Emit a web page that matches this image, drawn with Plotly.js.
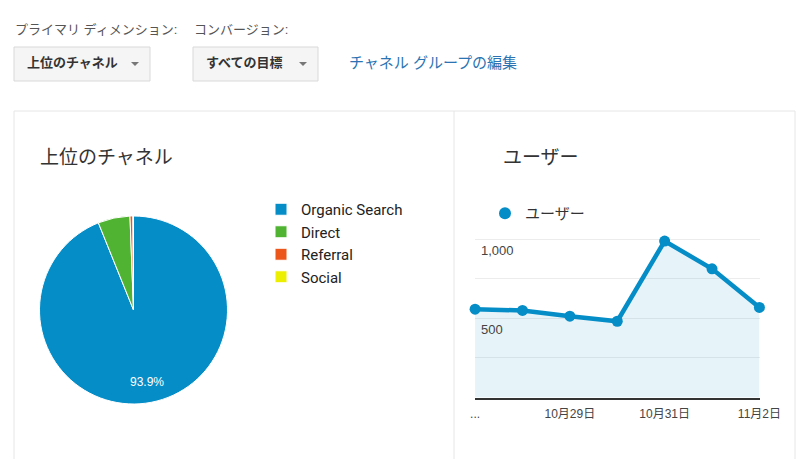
<!DOCTYPE html>
<html>
<head>
<meta charset="utf-8">
<script src="https://cdn.plot.ly/plotly-3.0.1.min.js"></script>
<style>
html,body{margin:0;padding:0;background:#fff;}
#chart{width:800px;height:459px;}
</style>
</head>
<body>
<div id="chart"></div>
<script>
// ---- data ----
const channelLabels = ["Organic Search", "Direct", "Referral", "Social"];
const channelValues = [93.9, 5.5, 0.5, 0.1];
const channelColors = ["#058dc7", "#50b432", "#ed561b", "#edef00"];

const dates = ["10月27日", "10月28日", "10月29日", "10月30日", "10月31日", "11月1日", "11月2日"];
const users = [557, 549, 513, 481, 987, 812, 568];

const xTickVals = ["10月27日", "10月29日", "10月31日", "11月2日"];
const xTickText = ["...", "10月29日", "10月31日", "11月2日"];
const yTickVals = [0, 250, 500, 750, 1000];
const yTickText = ["", "", "500", "", "1,000"];

// ---- helpers (pixel -> paper) ----
const W = 800, H = 459;
const X = px => px / W;
const Y = py => 1 - py / H;

const JP = '"Liberation Sans", Arial, "Noto Sans CJK JP", sans-serif';

// pie geometry (pixels)
const pieCx = 133.5, pieCy = 310, pieR = 94;

const pie = {
  type: "pie",
  labels: channelLabels,
  values: channelValues,
  marker: { colors: channelColors, line: { color: "#ffffff", width: 1 } },
  sort: false,
  direction: "clockwise",
  rotation: 0,
  domain: { x: [X(pieCx - pieR), X(pieCx + pieR)], y: [Y(pieCy + pieR), Y(pieCy - pieR)] },
  textinfo: "none",
  hoverinfo: "none",
  legend: "legend",
  showlegend: true
};

// percentage label for the largest slice, placed along its bisector (Google-chart style)
const total = channelValues.reduce((a, b) => a + b, 0);
const mid = channelValues[0] / 2 / total * 2 * Math.PI;
const labelR = pieR * 0.775;
const pctLabel = {
  text: (channelValues[0] / total * 100).toFixed(1) + "%",
  xref: "paper", yref: "paper",
  x: X(pieCx + labelR * Math.sin(mid)),
  y: Y(pieCy - labelR * Math.cos(mid)),
  xanchor: "center", yanchor: "middle", showarrow: false,
  font: { size: 12, color: "#ffffff", family: "Arial, sans-serif" }
};

const line = {
  type: "scatter",
  x: dates,
  y: users,
  mode: "lines+markers",
  line: { color: "#058dc7", width: 4.5 },
  marker: { color: "#058dc7", size: 11 },
  fill: "tozeroy",
  fillcolor: "rgba(5,141,199,0.1)",
  cliponaxis: false,
  showlegend: false,
  hoverinfo: "none",
  xaxis: "x",
  yaxis: "y"
};

const lineLegend = {
  type: "scatter",
  x: [null],
  y: [null],
  mode: "markers",
  name: "ユーザー",
  marker: { color: "#058dc7", size: 12 },
  legend: "legend2",
  showlegend: true,
  hoverinfo: "none"
};

const ann = (text, x, y, size, color, extra) => Object.assign({
  text: text, xref: "paper", yref: "paper", x: X(x), y: Y(y),
  xanchor: "left", yanchor: "middle", showarrow: false,
  font: { size: size, color: color, family: JP }
}, extra || {});

// y scale: 1000 at pixel 239, 0 at pixel 397.5; range padded a little above 1000
const yBottom = 397.5, yTop1000 = 239, yMax = 1020;
const yTopPx = yBottom - (yBottom - yTop1000) * yMax / 1000;

const layout = {
  width: W, height: H,
  margin: { l: 0, r: 0, t: 0, b: 0 },
  paper_bgcolor: "#ffffff",
  plot_bgcolor: "rgba(0,0,0,0)",
  font: { family: JP, color: "#333" },
  xaxis: {
    domain: [X(475), X(759.5)],
    type: "category",
    range: [-0.002, 6.002],
    showgrid: false,
    zeroline: false,
    showline: true,
    linecolor: "#333333",
    linewidth: 2,
    ticks: "",
    tickvals: xTickVals,
    ticktext: xTickText,
    tickfont: { size: 12, color: "#444", family: JP },
    ticklabelstandoff: 4,
    ticklabeloverflow: "allow",
    fixedrange: true
  },
  yaxis: {
    domain: [Y(yBottom), Y(yTopPx)],
    range: [0, yMax],
    tickvals: yTickVals,
    ticktext: yTickText,
    showgrid: true,
    gridcolor: "#ececec",
    zeroline: false,
    showline: false,
    ticks: "",
    ticklabelposition: "inside",
    ticklabelshift: 11,
    ticklabelstandoff: 3,
    ticklabeloverflow: "allow",
    tickfont: { size: 13, color: "#444", family: JP },
    fixedrange: true
  },
  legend: {
    x: X(261), y: Y(193), xanchor: "left", yanchor: "top",
    font: { family: "Roboto, Arial, sans-serif", size: 15, color: "#222" },
    bgcolor: "rgba(0,0,0,0)",
    tracegroupgap: 0
  },
  legend2: {
    x: X(485), y: Y(197), xanchor: "left", yanchor: "top",
    font: { family: '"Noto Sans CJK JP", sans-serif', size: 15, color: "#333" },
    bgcolor: "rgba(0,0,0,0)"
  },
  shapes: [
    // card frame
    { type: "rect", xref: "paper", yref: "paper", x0: X(14), x1: X(795), y0: Y(111), y1: Y(480),
      line: { color: "#e6e6e6", width: 1 }, fillcolor: "rgba(0,0,0,0)", layer: "below" },
    { type: "line", xref: "paper", yref: "paper", x0: X(454), x1: X(454), y0: Y(111), y1: Y(480),
      line: { color: "#e6e6e6", width: 1 }, layer: "below" },
    // dropdown buttons
    { type: "rect", xref: "paper", yref: "paper", x0: X(14), x1: X(150), y0: Y(47), y1: Y(81),
      line: { color: "#d9d9d9", width: 1 }, fillcolor: "#f5f5f5", layer: "below" },
    { type: "rect", xref: "paper", yref: "paper", x0: X(193), x1: X(318), y0: Y(47), y1: Y(81),
      line: { color: "#d9d9d9", width: 1 }, fillcolor: "#f5f5f5", layer: "below" },
    { type: "path", xref: "paper", yref: "paper",
      path: `M${X(131)},${Y(62)} L${X(139)},${Y(62)} L${X(135)},${Y(66)} Z`,
      fillcolor: "#777", line: { width: 0 } },
    { type: "path", xref: "paper", yref: "paper",
      path: `M${X(299)},${Y(62)} L${X(307)},${Y(62)} L${X(303)},${Y(66)} Z`,
      fillcolor: "#777", line: { width: 0 } }
  ],
  annotations: [
    ann("プライマリ ディメンション:", 13, 30, 13, "#555"),
    ann("コンバージョン:", 192, 30, 13, "#555"),
    ann("<b>上位のチャネル</b>", 25, 63, 13, "#333"),
    ann("<b>すべての目標</b>", 204, 63, 13, "#333"),
    ann("チャネル グループの編集", 347, 62, 15, "#2b73b2"),
    ann("上位のチャネル", 38, 157, 19, "#333"),
    ann("ユーザー", 501, 157, 19, "#333"),
    pctLabel
  ]
};

Plotly.newPlot("chart", [pie, line, lineLegend], layout, { displayModeBar: false, staticPlot: true });
</script>
</body>
</html>
